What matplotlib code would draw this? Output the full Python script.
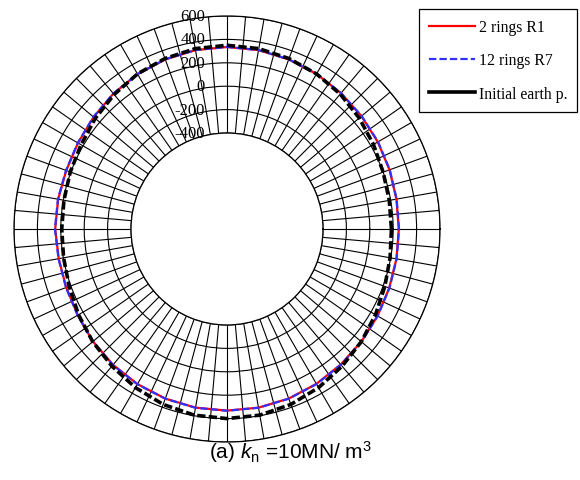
import numpy as np
import matplotlib
matplotlib.use("Agg")
import matplotlib.pyplot as plt
from matplotlib.lines import Line2D
from matplotlib.transforms import offset_copy

plt.rcParams['mathtext.fontset'] = 'custom'
plt.rcParams['mathtext.rm'] = 'Liberation Sans'
plt.rcParams['mathtext.it'] = 'Liberation Sans:italic'

# Углы (град), против часовой стрелки от оси X
angles = np.arange(0, 360, 10)

# 2 rings R1
ring2_r1 = [248, 250, 258, 268, 280, 295, 310, 322, 332, 335,
            332, 322, 308, 290, 268, 250, 242, 245, 248, 240,
            242, 252, 275, 295, 310, 322, 330, 332, 330, 322,
            308, 292, 278, 265, 255, 250]

# 12 rings R7
ring12_r7 = [250, 252, 260, 270, 282, 296, 311, 323, 333, 336,
             333, 323, 309, 291, 270, 252, 244, 247, 250, 242,
             244, 254, 277, 297, 312, 323, 331, 333, 331, 323,
             310, 294, 280, 267, 257, 252]

# Initial earth pressure
earth_p = [185, 188, 200, 225, 255, 285, 310, 330, 345, 350,
           345, 330, 310, 280, 250, 220, 205, 195, 192, 198,
           215, 245, 278, 310, 345, 375, 395, 400, 395, 375,
           345, 310, 278, 245, 215, 195]

r_ticks = [600, 400, 200, 0, -200, -400]


def closed(vals):
    th = np.deg2rad(np.append(angles, 360))
    return th, np.append(vals, vals[0])


fig = plt.figure(figsize=(5.8, 4.81), dpi=100)
ax = fig.add_axes([14 / 580, 38 / 481, 426 / 580, 426 / 481], projection='polar')

ax.set_ylim(-400, 600)
ax.set_rorigin(-1220)
ax.set_thetagrids(np.arange(0, 360, 5), labels=[])
ax.set_rgrids(r_ticks, labels=[])
ax.grid(True, color='black', linewidth=0.8, linestyle='-')
ax.spines['polar'].set_linewidth(0.9)
ax.spines['inner'].set_linewidth(0.9)
ax.tick_params(length=0)

th, r = closed(ring2_r1)
ax.plot(th, r, color='red', lw=1.6, zorder=3)
th, r = closed(ring12_r7)
ax.plot(th, r, color='#3030ff', lw=1.6, linestyle=(0, (3.3, 1.4)), zorder=4)
th, r = closed(earth_p)
ax.plot(th, r, color='black', lw=2.6, linestyle=(0, (2.3, 0.9)), zorder=5)

# подписи радиальной оси
lab_tr = offset_copy(ax.transData, fig=fig, x=-22, y=0, units='dots')
for v in r_ticks:
    ax.text(np.pi / 2, v, str(v), transform=lab_tr, ha='right', va='center',
            fontsize=12, family='Liberation Serif', zorder=6)

handles = [Line2D([], [], color='red', lw=1.6),
           Line2D([], [], color='#3030ff', lw=1.6, linestyle=(0, (3.3, 1.4))),
           Line2D([], [], color='black', lw=2.6)]
labels = ['2 rings R1', '12 rings R7', 'Initial earth p.']
leg = fig.legend(handles, labels, loc='upper left',
                 bbox_to_anchor=(419 / 580, 1 - 10 / 481),
                 bbox_transform=fig.transFigure, borderaxespad=0,
                 prop={'family': 'Liberation Serif', 'size': 11.3},
                 fancybox=False, framealpha=1, edgecolor='black',
                 handlelength=2.95, handletextpad=0.2, labelspacing=1.1,
                 borderpad=0.65)
leg.get_frame().set_linewidth(0.9)

fig.text(0.5, 1 - 452 / 481, r'(a) $k_{\rm n}$ =10MN/ m$^3$',
         ha='center', va='center', fontsize=15, family='Liberation Sans')

fig.savefig('out.png', dpi=100)
